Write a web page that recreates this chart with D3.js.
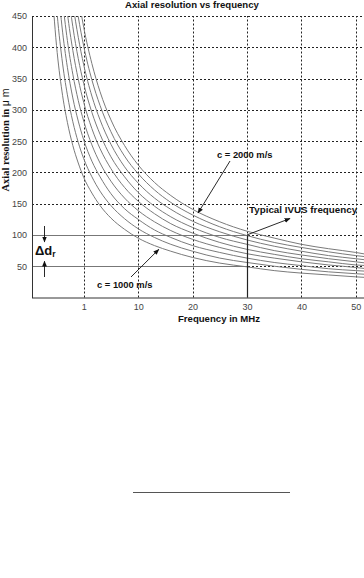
<!DOCTYPE html>
<html>
<head>
<meta charset="utf-8">
<script src="https://cdn.jsdelivr.net/npm/d3@7"></script>
<style>
  body { margin: 0; background: #fff; }
  svg { display: block; }
</style>
</head>
<body>
<div id="chart"></div>
<script>
// frequency samples (x axis units as drawn) and the nine resolution curves
const freqs = [-6, -5, -4, -3, -2, -1, 0, 1.5, 3, 5, 7.5, 10, 13, 16, 20, 25, 30, 35, 40, 45, 50, 52];
const curve1 = [517, 403, 330, 280, 243, 215, 192, 167, 147, 127, 109, 95, 83, 74, 64, 55, 49, 43, 39, 36, 33, 32];
const curve2 = [599, 466, 382, 324, 281, 248, 222, 193, 170, 147, 126, 110, 96, 85, 74, 63, 56, 50, 45, 41, 38, 37];
const curve3 = [680, 530, 434, 368, 319, 282, 252, 218, 193, 166, 142, 125, 108, 96, 83, 72, 63, 56, 51, 46, 43, 42];
const curve4 = [762, 593, 486, 411, 357, 315, 282, 244, 215, 186, 159, 139, 121, 107, 93, 80, 70, 63, 57, 52, 48, 46];
const curve5 = [843, 656, 538, 455, 395, 349, 312, 270, 238, 206, 176, 154, 134, 118, 103, 88, 77, 69, 62, 57, 52, 51];
const curve6 = [924, 720, 589, 499, 433, 382, 342, 296, 261, 225, 193, 168, 146, 129, 112, 96, 85, 75, 68, 62, 57, 55];
const curve7 = [1006, 783, 641, 543, 471, 416, 372, 322, 284, 245, 209, 183, 159, 141, 122, 105, 92, 82, 74, 67, 62, 60];
const curve8 = [1087, 846, 693, 587, 509, 449, 402, 348, 307, 265, 226, 198, 172, 152, 132, 113, 99, 88, 80, 73, 67, 65];
const curve9 = [1169, 910, 745, 631, 547, 483, 432, 374, 329, 284, 243, 212, 184, 163, 141, 121, 106, 95, 85, 78, 72, 69];
const curves = [curve1, curve2, curve3, curve4, curve5, curve6, curve7, curve8, curve9];

const xTicks = [0, 10, 20, 30, 40, 50];
const xTickLabels = ['1', '10', '20', '30', '40', '50'];
const yTicks = [50, 100, 150, 200, 250, 300, 350, 400, 450];
const ivusFreq = 30;
const bandLow = 50;
const bandHigh = 100;

const width = 364;
const height = 578;

const svg = d3.select('#chart')
    .append('svg')
    .attr('width', width)
    .attr('height', height);

const x = d3.scaleLinear().domain([-9.5, 51.5]).range([32, 364]);
const y = d3.scaleLinear().domain([0, 450]).range([297.5, 16]);

const sans = 'Arial, "Liberation Sans", Helvetica, sans-serif';

// arrow head
svg.append('defs')
    .append('marker')
    .attr('id', 'head')
    .attr('viewBox', '0 0 10 10')
    .attr('refX', 9)
    .attr('refY', 5)
    .attr('markerWidth', 6)
    .attr('markerHeight', 6)
    .attr('markerUnits', 'userSpaceOnUse')
    .attr('orient', 'auto')
    .append('path')
    .attr('d', 'M0,1 L10,5 L0,9 Z')
    .attr('fill', '#111');

svg.select('defs')
    .append('clipPath')
    .attr('id', 'plot')
    .append('rect')
    .attr('x', x(-9.5))
    .attr('y', y(450))
    .attr('width', width - x(-9.5))
    .attr('height', y(0) - y(450));

// grid
svg.append('g')
    .selectAll('line')
    .data(yTicks)
    .join('line')
    .attr('x1', x(-9.5))
    .attr('x2', width)
    .attr('y1', (d) => Math.round(y(d)) + 0.5)
    .attr('y2', (d) => Math.round(y(d)) + 0.5)
    .attr('stroke', '#222')
    .attr('stroke-dasharray', '2,2');

svg.append('g')
    .selectAll('line')
    .data(xTicks)
    .join('line')
    .attr('x1', (d) => Math.round(x(d)) + 0.5)
    .attr('x2', (d) => Math.round(x(d)) + 0.5)
    .attr('y1', y(0))
    .attr('y2', y(450))
    .attr('stroke', '#222')
    .attr('stroke-dasharray', '2,2');

// curves
const line = d3.line()
    .x((d, i) => x(freqs[i]))
    .y((d) => y(d))
    .curve(d3.curveMonotoneX);

svg.append('g')
    .attr('clip-path', 'url(#plot)')
    .selectAll('path')
    .data(curves)
    .join('path')
    .attr('d', line)
    .attr('fill', 'none')
    .attr('stroke', '#7a7a7a')
    .attr('stroke-width', 1);

// resolution band and IVUS frequency
svg.append('g')
    .selectAll('line')
    .data([bandLow, bandHigh])
    .join('line')
    .attr('x1', x(-9.5))
    .attr('x2', x(ivusFreq))
    .attr('y1', (d) => Math.round(y(d)) + 0.5)
    .attr('y2', (d) => Math.round(y(d)) + 0.5)
    .attr('stroke', '#777')
    .attr('stroke-width', 1);

svg.append('line')
    .attr('x1', Math.round(x(ivusFreq)) + 0.5)
    .attr('x2', Math.round(x(ivusFreq)) + 0.5)
    .attr('y1', y(0))
    .attr('y2', Math.round(y(bandHigh)) + 0.5)
    .attr('stroke', '#222')
    .attr('stroke-width', 1.2);

// axes
const yAxis = d3.axisLeft(y).tickValues(yTicks).tickSize(0).tickPadding(5);
const xAxis = d3.axisBottom(x).tickValues(xTicks).tickSize(0).tickPadding(6)
    .tickFormat((d, i) => xTickLabels[i]);

const gy = svg.append('g')
    .attr('transform', `translate(${x(-9.5)},0)`)
    .call(yAxis);
const gx = svg.append('g')
    .attr('transform', `translate(0,${y(0)})`)
    .call(xAxis);

[gx, gy].forEach((g) => {
    g.select('.domain').attr('stroke', '#333');
    g.selectAll('text')
        .attr('fill', '#444')
        .style('font-family', sans)
        .style('font-size', '9px');
});
gx.select('.domain').attr('d', `M${x(-9.5)},0.5H${width}`);

// titles
svg.append('text')
    .attr('x', 192)
    .attr('y', 8)
    .attr('text-anchor', 'middle')
    .style('font-family', sans)
    .style('font-weight', 'bold')
    .style('font-size', '9.6px')
    .attr('fill', '#111')
    .text('Axial resolution vs frequency');

svg.append('text')
    .attr('x', 219)
    .attr('y', 322)
    .attr('text-anchor', 'middle')
    .style('font-family', sans)
    .style('font-weight', 'bold')
    .style('font-size', '9.6px')
    .attr('fill', '#111')
    .text('Frequency in MHz');

const ylab = svg.append('text')
    .attr('transform', 'translate(9,140) rotate(-90)')
    .attr('text-anchor', 'middle')
    .style('font-family', '"Liberation Serif", "Times New Roman", serif')
    .style('font-weight', 'bold')
    .style('font-size', '10.5px')
    .attr('fill', '#111');
ylab.append('tspan').text('Axial resolution in ');
ylab.append('tspan').style('font-family', sans).style('font-weight', 'normal').text('μ m');

// annotations
function arrow(x1, y1, x2, y2) {
    svg.append('line')
        .attr('x1', x1).attr('y1', y1)
        .attr('x2', x2).attr('y2', y2)
        .attr('stroke', '#111')
        .attr('stroke-width', 0.9)
        .attr('marker-end', 'url(#head)');
}

function label(tx, ty, str, size) {
    return svg.append('text')
        .attr('x', tx)
        .attr('y', ty)
        .style('font-family', sans)
        .style('font-weight', 'bold')
        .style('font-size', size + 'px')
        .attr('fill', '#111')
        .text(str);
}

label(217, 158, 'c = 2000 m/s', 9.4);
arrow(230, 161, x(21), y(135));

label(97, 288, 'c = 1000 m/s', 9.4);
arrow(131, 277, x(13.8), y(77));

label(249, 213, 'Typical IVUS frequency', 9.8);
arrow(x(ivusFreq), y(bandHigh), 290, 218.5);

// delta d_r
arrow(44.5, 226, 44.5, y(bandHigh) + 7);
arrow(44.5, 277, 44.5, y(bandLow) - 5);
const dl = svg.append('text')
    .attr('x', 35)
    .attr('y', 255)
    .style('font-family', sans)
    .style('font-weight', 'bold')
    .style('font-size', '13px')
    .attr('fill', '#111');
dl.append('tspan').text('Δd');
dl.append('tspan').attr('dy', 2).style('font-size', '8.5px').text('r');

// separator line below the figure
svg.append('line')
    .attr('x1', 133)
    .attr('x2', 290)
    .attr('y1', 492.5)
    .attr('y2', 492.5)
    .attr('stroke', '#555')
    .attr('stroke-width', 1);
</script>
</body>
</html>
